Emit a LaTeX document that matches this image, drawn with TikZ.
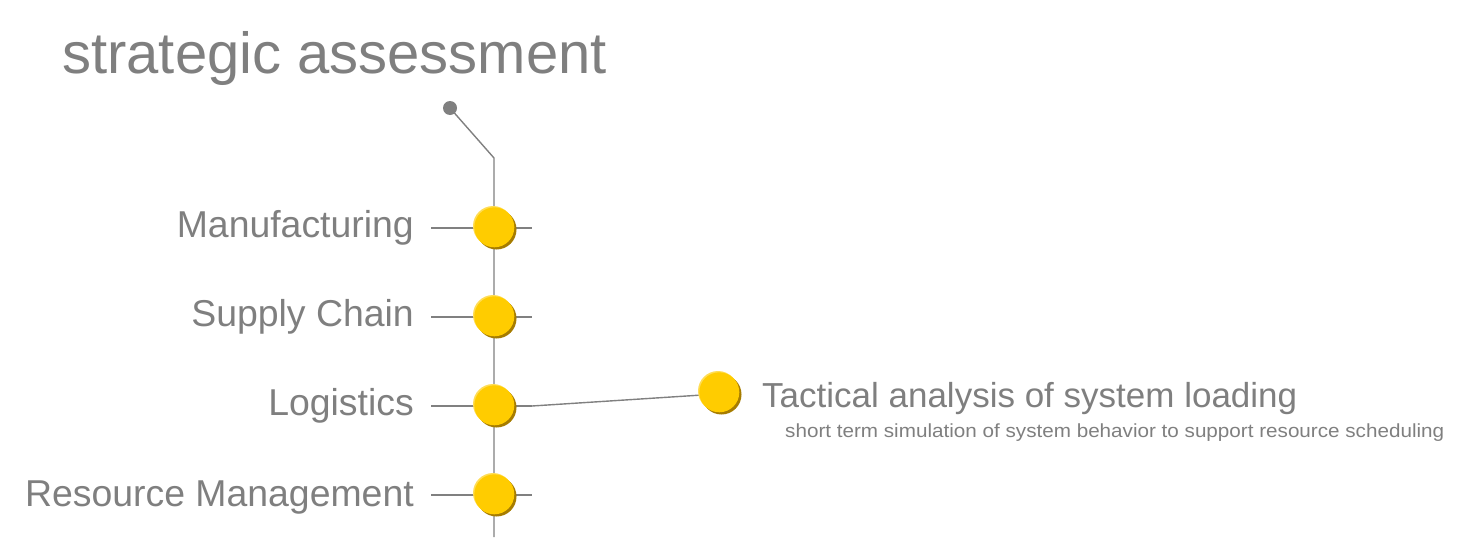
\documentclass[tikz,border=0pt]{standalone}
\usepackage{fontspec}
\setmainfont{Liberation Sans}
\definecolor{txtgray}{HTML}{7F7F7F}
\definecolor{linegray}{HTML}{808080}
\definecolor{dotyellow}{HTML}{FFCC00}
\definecolor{dotshadow}{HTML}{A67C00}
\definecolor{dothi}{HTML}{FFDD55}
\tikzset{
  conn/.style={draw=linegray, line width=1.4pt},
  lbl/.style={text=txtgray, inner sep=0pt, anchor=base east, font=\fontsize{37.4}{40}\selectfont},
  dot/.style={circle, minimum size=40pt, inner sep=0pt},
}
\newcommand{\yellowdot}[2]{%
  \fill[dotshadow] ($(#1)+(2.5,2.5)$) circle (20);
  \fill[dothi] ($(#1)+(-1,-1)$) circle (20);
  \node[dot, fill=dotyellow] (#2) at ($(#1)+(0.3,0.3)$) {};
}
\usetikzlibrary{calc}
\begin{document}
\begin{tikzpicture}[x=1pt,y=-1pt]
\useasboundingbox (0,0) rectangle (1477,538);
% title
\node[text=txtgray, inner sep=0pt, anchor=base west, font=\fontsize{58}{60}\selectfont] (title) at (62,73) {strategic assessment};
% spine
\coordinate (top) at (450,108);
\coordinate (bend) at (494,158);
\coordinate (bottom) at (494,537);
\fill[linegray] (top) circle (7);
\draw[conn] (top) -- (bend) -- (bottom);
% ticks
\foreach \y/\n in {228/m,317/s,406/l,495/r}{
  \coordinate (\n L) at (431,\y);
  \coordinate (\n R) at (532,\y);
  \draw[conn] (\n L) -- (\n R);
}
% connector to tactical
\draw[conn] (lR) -- (702,395);
% dots
\yellowdot{494,227}{dm}
\yellowdot{494,316}{ds}
\yellowdot{494,405}{dl}
\yellowdot{494,494}{dr}
\yellowdot{719,392}{dt}
% labels
\node[lbl] (manu) at (414,237) {Manufacturing};
\node[lbl] (supply) at (414,326) {Supply Chain};
\node[lbl] (logi) at (414,415) {Logistics};
\node[lbl] (res) at (414,506) {Resource Management};
% tactical text
\node[text=txtgray, inner sep=0pt, anchor=base west, font=\fontsize{34.7}{36}\selectfont] (tact) at (762,407) {\resizebox{535pt}{\height}{Tactical analysis of system loading}};
\node[text=txtgray, inner sep=0pt, anchor=base west, font=\fontsize{19}{21}\selectfont] (sub) at (785,437) {\resizebox{659pt}{\height}{short term simulation of system behavior to support resource scheduling}};
\end{tikzpicture}
\end{document}
